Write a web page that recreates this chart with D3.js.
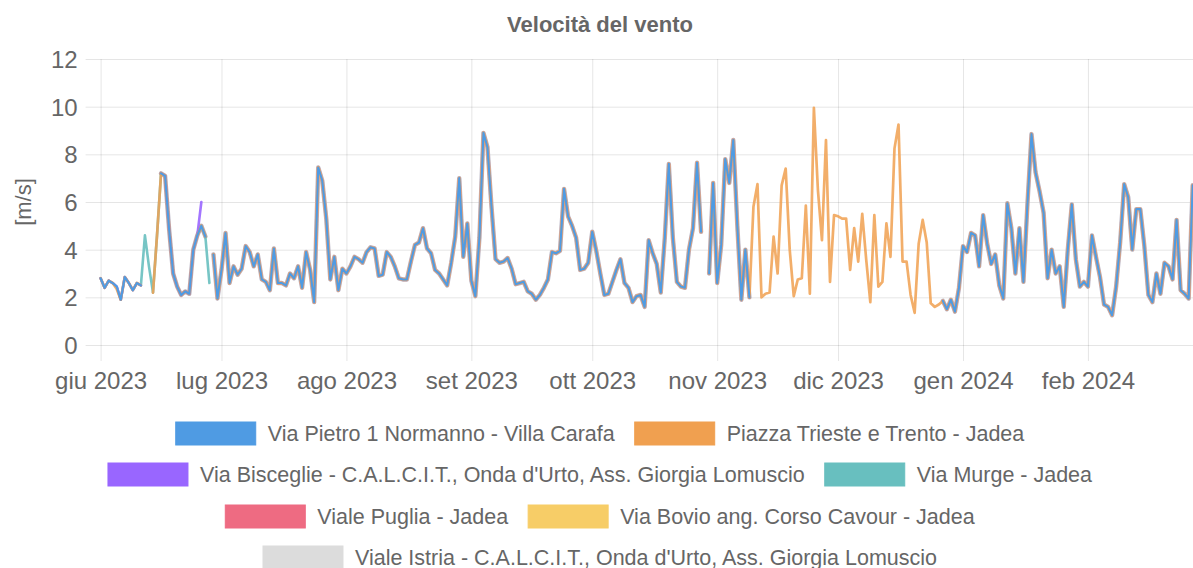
<!DOCTYPE html>
<html><head><meta charset="utf-8">
<script src="https://cdn.jsdelivr.net/npm/d3@7"></script>
<style>body{margin:0;background:#fff}svg{display:block}text{font-family:"Liberation Sans",Arial,sans-serif;fill:#666}</style>
</head><body><svg id="c" width="1193" height="568"></svg>
<script>
const titleText = "Velocità del vento";
const yAxisTitle = "[m/s]";
const monthTickDates = ["2023-06-01","2023-07-01","2023-08-01","2023-09-01","2023-10-01","2023-11-01","2023-12-01","2024-01-01","2024-02-01"];
const monthLabels = ["giu 2023","lug 2023","ago 2023","set 2023","ott 2023","nov 2023","dic 2023","gen 2024","feb 2024"];
const yTicks = [0,2,4,6,8,10,12];
const firstDay = "2023-06-01", lastDay = "2024-02-27";
const seriesNames = ["Via Pietro 1 Normanno - Villa Carafa","Piazza Trieste e Trento - Jadea","Via Bisceglie - C.A.L.C.I.T., Onda d'Urto, Ass. Giorgia Lomuscio","Via Murge - Jadea","Viale Puglia - Jadea","Via Bovio ang. Corso Cavour - Jadea","Viale Istria - C.A.L.C.I.T., Onda d'Urto, Ass. Giorgia Lomuscio"];
const seriesColors = ["#4f9be3","#f0a050","#9966ff","#68bfbf","#ee6b82","#f7cd67","#dcdcdc"];

const viaPietro = [2.8,2.4,2.7,2.6,2.45,1.9,2.85,2.6,2.3,2.6,2.5,null,null,null,null,7.2,7.1,4.85,3.0,2.45,2.1,2.25,2.15,4.0,4.6,5.0,4.55,null,3.8,1.95,3.15,4.7,2.6,3.3,2.95,3.2,4.15,3.9,3.3,3.8,2.75,2.65,2.3,4.05,2.6,2.6,2.5,3.0,2.8,3.3,2.4,3.9,3.15,1.8,7.45,6.9,5.3,2.75,3.7,2.3,3.2,3.0,3.3,3.7,3.6,3.45,3.9,4.1,4.05,2.9,2.95,3.9,3.7,3.3,2.8,2.75,2.75,3.5,4.2,4.3,4.9,4.05,3.85,3.15,3.0,2.75,2.5,3.45,4.55,7.0,3.7,5.1,2.7,2.05,4.5,8.9,8.3,5.8,3.6,3.45,3.5,3.65,3.2,2.55,2.6,2.65,2.25,2.15,1.9,2.1,2.4,2.75,3.9,3.85,3.95,6.55,5.4,5.0,4.5,3.15,3.2,3.45,4.75,3.95,3.0,2.1,2.15,2.65,3.15,3.6,2.6,2.4,1.8,2.05,2.1,1.6,4.4,3.85,3.4,2.2,4.5,7.6,4.5,2.65,2.45,2.4,4.0,4.9,7.65,4.75,null,3.0,6.8,2.6,4.2,7.8,6.8,8.6,5.0,1.9,4.0,2.0,
null,null,null,null,null,null,null,null,null,null,null,null,null,null,null,null,null,null,null,null,null,null,null,null,null,null,null,null,null,null,null,null,null,null,null,null,null,null,null,null,null,null,null,null,null,null,null,
1.85,1.5,1.9,1.4,2.4,4.15,3.9,4.7,4.6,3.3,5.45,4.25,3.4,3.8,2.5,1.95,5.95,4.9,3.0,4.9,2.65,5.95,8.85,7.25,6.45,5.55,2.8,4.0,3.0,3.3,1.6,4.0,5.9,3.6,2.45,2.65,2.45,4.6,3.7,2.85,1.7,1.6,1.25,2.45,4.3,6.75,6.2,4.0,5.7,5.7,4.15,2.1,1.8,3.0,2.15,3.45,3.3,2.75,5.25,2.3,2.15,1.95,6.7];

const piazzaTrieste = [2.8,2.4,2.7,2.6,2.35,1.9,2.85,2.6,2.3,2.6,2.5,null,null,2.2,4.6,7.2,7.1,4.85,3.0,2.45,2.1,2.25,2.15,4.0,4.6,5.0,4.55,null,3.8,1.95,3.15,4.7,2.6,3.3,2.95,3.2,4.15,3.9,3.3,3.8,2.75,2.65,2.3,4.05,2.6,2.6,2.5,3.0,2.8,3.3,2.4,3.9,3.15,1.8,7.45,6.9,5.3,2.75,3.7,2.3,3.2,3.0,3.3,3.7,3.6,3.45,3.9,4.1,4.05,2.9,2.95,3.9,3.7,3.3,2.8,2.75,2.75,3.5,4.2,4.3,4.9,4.05,3.85,3.15,3.0,2.75,2.5,3.45,4.55,7.0,3.7,5.1,2.7,2.05,4.5,8.9,8.3,5.8,3.6,3.45,3.5,3.65,3.2,2.55,2.6,2.65,2.25,2.15,1.9,2.1,2.4,2.75,3.9,3.85,3.95,6.55,5.4,5.0,4.5,3.15,3.2,3.45,4.75,3.95,3.0,2.1,2.15,2.65,3.15,3.6,2.6,2.4,1.8,2.05,2.1,1.6,4.4,3.85,3.4,2.2,4.5,7.6,4.5,2.65,2.45,2.4,4.0,4.9,7.65,4.75,null,3.0,6.8,2.6,4.2,7.8,6.8,8.6,5.0,1.9,4.0,2.0,
5.8,6.75,2.0,2.15,2.2,4.55,3.0,6.7,7.4,4.0,2.05,2.75,2.8,5.85,2.15,9.95,6.5,4.4,8.6,2.65,5.45,5.4,5.3,5.3,3.15,4.9,3.5,5.5,3.55,1.8,5.45,2.45,2.65,5.1,3.7,8.25,9.25,3.5,3.5,2.1,1.35,4.25,5.25,4.3,1.75,1.6,1.7,
1.85,1.5,1.9,1.4,2.4,4.15,3.9,4.7,4.6,3.3,5.45,4.25,3.4,3.8,2.5,1.95,5.95,4.9,3.0,4.9,2.65,5.95,8.85,7.25,6.45,5.55,2.8,4.0,3.0,3.3,1.6,4.0,5.9,3.6,2.45,2.65,2.45,4.6,3.7,2.85,1.7,1.6,1.25,2.45,4.3,6.75,6.2,4.0,5.7,5.7,4.15,2.1,1.8,3.0,2.15,3.45,3.3,2.75,5.25,2.3,2.15,1.95,6.7];

const viaBisceglie = [2.8,2.4,2.7,2.6,2.45,1.9,2.85,2.6,2.3,2.6,2.5,null,null,null,null,7.2,7.1,4.85,3.0,2.45,2.1,2.25,2.15,4.0,4.6,6.0];

const viaMurge = [2.8,2.4,2.7,2.6,2.45,1.9,2.85,2.6,2.3,2.6,2.5,4.6,3.3,2.2,4.6,7.2,7.1,4.85,3.0,2.45,2.1,2.25,2.15,4.0,4.6,5.0,4.55,2.6];

const vialePuglia = [null,null,null,null,null,null,null,null,null,null,null,null,null,null,null,7.2,7.1,4.85,3.0,2.45,2.1,2.25,2.15,4.0,4.6,5.0,4.55,null,3.8,1.95,3.15,4.7,2.6,3.3,2.95,3.2,4.15,3.9,3.3,3.8,2.75,2.65,2.3,4.05,2.6,2.6,2.5,3.0,2.8,3.3,2.4,3.9,3.15,1.8,7.45,6.9,5.3,2.75,3.7,2.3,3.2,3.0,3.3,3.7,3.6,3.45,3.9,4.1,4.05,2.9,2.95,3.9,3.7,3.3,2.8,2.75,2.75,3.5,4.2,4.3,4.9,4.05,3.85,3.15,3.0,2.75,2.5,3.45,4.55,7.0,3.7,5.1,2.7,2.05,4.5,8.9,8.3,5.8,3.6,3.45,3.5,3.65,3.2,2.55,2.6,2.65,2.25,2.15,1.9,2.1,2.4,2.75,3.9,3.85,3.95,6.55,5.4,5.0,4.5,3.15,3.2,3.45,4.75,3.95,3.0,2.1,2.15,2.65,3.15,3.6,2.6,2.4,1.8,2.05,2.1,1.6,4.4,3.85,3.4,2.2,4.5,7.6,4.5,2.65,2.45,2.4,4.0,4.9,7.65,4.75,null,3.0,6.8,2.6,4.2,7.8,6.8,8.6,5.0,1.9,4.0,2.0,
null,null,null,null,null,null,null,null,null,null,null,null,null,null,null,null,null,null,null,null,null,null,null,null,null,null,null,null,null,null,null,null,null,null,null,null,null,null,null,null,null,null,null,null,null,null,null,
1.85,1.5,1.9,1.4,2.4,4.15,3.9,4.7,4.6,3.3,5.45,4.25,3.4,3.8,2.5,1.95,5.95,4.9,3.0,4.9,2.65,5.95,8.85,7.25,6.45,5.55,2.8,4.0,3.0,3.3,1.6,4.0,5.9,3.6,2.45,2.65,2.45,4.6,3.7,2.85,1.7,1.6,1.25,2.45,4.3,6.75,6.2,4.0,5.7,5.7,4.15,2.1,1.8,3.0,2.15,3.45,3.3,2.75,5.25,2.3,2.15,1.95,6.7];

const viaBovio = [null,null,null,null,null,null,null,null,null,null,null,null,null,null,null,7.2,7.1,4.85,3.0,2.45,2.1,2.25,2.15,4.0,4.6,5.0,4.55,null,3.8,1.95,3.15,4.7,2.6,3.3,2.95,3.2,4.15,3.9,3.3,3.8,2.75,2.65,2.3,4.05,2.6,2.6,2.5,3.0,2.8,3.3,2.4,3.9,3.15,1.8,7.45,6.9,5.3,2.75,3.7,2.3,3.2,3.0,3.3,3.7,3.6,3.45,3.9,4.1,4.05,2.9,2.95,3.9,3.7,3.3,2.8,2.75,2.75,3.5,4.2,4.3,4.9,4.05,3.85,3.15,3.0,2.75,2.5,3.45,4.55,7.0,3.7,5.1,2.7,2.05,4.5,8.9,8.3,5.8,3.6,3.45,3.5,3.65,3.2,2.55,2.6,2.65,2.25,2.15,1.9,2.1,2.4,2.75,3.9,3.85,3.95,6.55,5.4,5.0,4.5,3.15,3.2,3.45,4.75,3.95,3.0,2.1,2.15,2.65,3.15,3.6,2.6,2.4,1.8,2.05,2.1,1.6,4.4,3.85,3.4,2.2,4.5,7.6,4.5,2.65,2.45,2.4,4.0,4.9,7.65,4.75,null,3.0,6.8,2.6,4.2,7.8,6.8,8.6,5.0,1.9,4.0,2.0,
null,null,null,null,null,null,null,null,null,null,null,null,null,null,null,null,null,null,null,null,null,null,null,null,null,null,null,null,null,null,null,null,null,null,null,null,null,null,null,null,null,null,null,null,null,null,null,
1.85,1.5,1.9,1.4,2.4,4.15,3.9,4.7,4.6,3.3,5.45,4.25,3.4,3.8,2.5,1.95,5.95,4.9,3.0,4.9,2.65,5.95,8.85,7.25,6.45,5.55,2.8,4.0,3.0,3.3,1.6,4.0,5.9,3.6,2.45,2.65,2.45,4.6,3.7,2.85,1.7,1.6,1.25,2.45,4.3,6.75,6.2,4.0,5.7,5.7,4.15,2.1,1.8,3.0,2.15,3.45,3.3,2.75,5.25,2.3,2.15,1.95,6.7];

const vialeIstria = [null,null,null,null,null,null,null,null,null,null,null,null,null,null,null,7.2,7.1,4.85,3.0,2.45,2.1,2.25,2.15,4.0,4.6,5.0,4.55,null,3.8,1.95,3.15,4.7,2.6,3.3,2.95,3.2,4.15,3.9,3.3,3.8,2.75,2.65,2.3,4.05,2.6,2.6,2.5,3.0,2.8,3.3,2.4,3.9,3.15,1.8,7.45,6.9,5.3,2.75,3.7,2.3,3.2,3.0,3.3,3.7,3.6,3.45,3.9,4.1,4.05,2.9,2.95,3.9,3.7,3.3,2.8,2.75,2.75,3.5,4.2,4.3,4.9,4.05,3.85,3.15,3.0,2.75,2.5,3.45,4.55,7.0,3.7,5.1,2.7,2.05,4.5,8.9,8.3,5.8,3.6,3.45,3.5,3.65,3.2,2.55,2.6,2.65,2.25,2.15,1.9,2.1,2.4,2.75,3.9,3.85,3.95,6.55,5.4,5.0,4.5,3.15,3.2,3.45,4.75,3.95,3.0,2.1,2.15,2.65,3.15,3.6,2.6,2.4,1.8,2.05,2.1,1.6,4.4,3.85,3.4,2.2,4.5,7.6,4.5,2.65,2.45,2.4,4.0,4.9,7.65,4.75,null,3.0,6.8,2.6,4.2,7.8,6.8,8.6,5.0,1.9,4.0,2.0,
null,null,null,null,null,null,null,null,null,null,null,null,null,null,null,null,null,null,null,null,null,null,null,null,null,null,null,null,null,null,null,null,null,null,null,null,null,null,null,null,null,null,null,null,null,null,null,
1.85,1.5,1.9,1.4,2.4,4.15,3.9,4.7,4.6,3.3,5.45,4.25,3.4,3.8,2.5,1.95,5.95,4.9,3.0,4.9,2.65,5.95,8.85,7.25,6.45,5.55,2.8,4.0,3.0,3.3,1.6,4.0,5.9,3.6,2.45,2.65,2.45,4.6,3.7,2.85,1.7,1.6,1.25,2.45,4.3,6.75,6.2,4.0,5.7,5.7,4.15,2.1,1.8,3.0,2.15,3.45,3.3,2.75,5.25,2.3,2.15,1.95,6.7];

const seriesValues = [viaPietro, piazzaTrieste, viaBisceglie, viaMurge, vialePuglia, viaBovio, vialeIstria];
// drawing styles (not data)
const lineWidths = [2.1, 2.7, 2.6, 2.6, 3.4, 3.4, 4.4];
const lineOpacity = [1, 0.85, 0.9, 0.9, 0.35, 0.35, 1];
const lineColors = ["#4f9be3","#f0a050","#9966ff","#68bfbf","#ee6b82","#f7cd67","#b8b4c4"];

const W = 1193, H = 568;
const plot = {left: 100.6, right: 1192.7, top: 59, bottom: 345};
const svg = d3.select("#c");
const parse = d3.utcParse("%Y-%m-%d");
const days = d3.utcDays(parse(firstDay), d3.utcDay.offset(parse(lastDay), 1));

const x = d3.scaleUtc().domain([parse(firstDay), parse(lastDay)]).range([plot.left, plot.right]);
const y = d3.scaleLinear().domain([0, 12]).range([plot.bottom, plot.top]);

// Y axis with grid
const yAxis = svg.append("g").attr("transform", `translate(${plot.left},0)`)
  .call(d3.axisLeft(y).tickValues(yTicks).tickSizeInner(-(W - plot.left)).tickSizeOuter(0).tickPadding(0));
yAxis.select(".domain").remove();
yAxis.selectAll(".tick line").attr("x1", -15).attr("x2", W - plot.left).attr("stroke", "rgba(0,0,0,0.1)");
yAxis.selectAll(".tick text").attr("x", -23).attr("dy", "0.35em").style("font-size", "24px").attr("fill", "#666");

// X axis with grid
const xAxis = svg.append("g").attr("transform", `translate(0,${plot.bottom})`)
  .call(d3.axisBottom(x).tickValues(monthTickDates.map(parse)).tickFormat((d, i) => monthLabels[i]).tickSizeOuter(0));
xAxis.select(".domain").remove();
xAxis.selectAll(".tick line").attr("y1", 16).attr("y2", -(plot.bottom - plot.top)).attr("stroke", "rgba(0,0,0,0.1)");
xAxis.selectAll(".tick text").attr("y", 36).attr("dy", "0.35em").style("font-size", "24px").attr("fill", "#666");

// Title
svg.append("text").attr("x", 600).attr("y", 24).attr("dy", "0.35em").attr("text-anchor", "middle")
  .style("font-size", "22px").style("font-weight", "bold").attr("fill", "#666").text(titleText);
// Y title
svg.append("text").attr("transform", `translate(23,${(plot.top + plot.bottom) / 2}) rotate(-90)`)
  .attr("text-anchor", "middle").attr("dy", "0.35em").style("font-size", "22px").attr("fill", "#666").text(yAxisTitle);

// Lines
const line = d3.line().defined(d => d.v != null).x(d => x(d.t)).y(d => y(d.v));
const gLines = svg.append("g");
for (let s = seriesValues.length - 1; s >= 0; s--) {
  const pts = seriesValues[s].map((v, i) => ({t: days[i], v}));
  gLines.append("path").datum(pts).attr("d", line).attr("fill", "none")
    .attr("stroke", lineColors[s]).attr("stroke-width", lineWidths[s]).attr("stroke-opacity", lineOpacity[s])
    .attr("stroke-linejoin", "round").attr("stroke-linecap", "round");
}

// Legend
const rows = [[0, 1], [2, 3], [4, 5], [6]];
const rowY = [433.5, 474.5, 516.5, 557.5];
const legendFont = 21.5, boxW = 80, boxH = 23, gap = 12, itemGap = 20;
rows.forEach((row, r) => {
  const g = svg.append("g");
  const items = row.map(i => {
    const gi = g.append("g");
    gi.append("rect").attr("width", boxW).attr("height", boxH).attr("y", rowY[r] - boxH / 2)
      .attr("fill", seriesColors[i]).attr("stroke", seriesColors[i]).attr("stroke-width", 1);
    const t = gi.append("text").attr("x", boxW + gap).attr("y", rowY[r]).attr("dy", "0.35em")
      .style("font-size", legendFont + "px").attr("fill", "#666").text(seriesNames[i]);
    return {gi, w: boxW + gap + t.node().getComputedTextLength()};
  });
  const total = d3.sum(items, d => d.w) + itemGap * (items.length - 1);
  let cx = 600 - total / 2;
  items.forEach(it => { it.gi.attr("transform", `translate(${cx},0)`); cx += it.w + itemGap; });
});
</script></body></html>
